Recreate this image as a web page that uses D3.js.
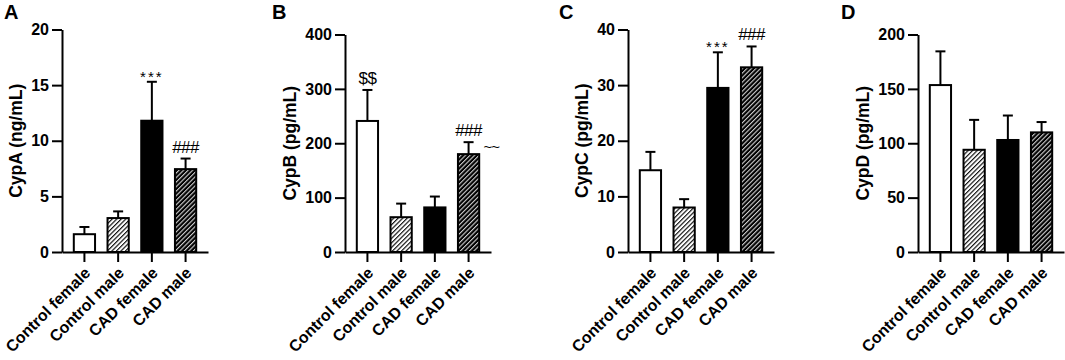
<!DOCTYPE html>
<html>
<head>
<meta charset="utf-8">
<script src="https://cdn.jsdelivr.net/npm/d3@7"></script>
<style>
  body { margin: 0; background: #fff; }
  svg { display: block; font-family: "Liberation Sans", Arial, sans-serif; }
</style>
</head>
<body>
<div id="chart"></div>
<script>
// groups (same for all panels)
var groups = ["Control female", "Control male", "CAD female", "CAD male"]

// panel A: CypA (ng/mL)
var meanA = [1.6, 3.05, 11.8, 7.45]
var semA = [0.65, 0.6, 3.5, 0.95]
var ticksA = [0, 5, 10, 15, 20]
var markA = ["", "", "***", "###"]

// panel B: CypB (pg/mL)
var meanB = [241, 64, 82, 180]
var semB = [57, 25, 20, 22]
var ticksB = [0, 100, 200, 300, 400]
var markB = ["$$", "", "", "###"]
var sideB = ["", "", "", "~~"]

// panel C: CypC (pg/mL)
var meanC = [14.7, 8.0, 29.5, 33.2]
var semC = [3.3, 1.5, 6.4, 3.75]
var ticksC = [0, 10, 20, 30, 40]
var markC = ["", "", "***", "###"]

// panel D: CypD (pg/mL)
var meanD = [153.5, 94, 103, 110]
var semD = [31, 27.5, 22.5, 9.5]
var ticksD = [0, 50, 100, 150, 200]

var panels = [
  { letter: "A", label: "CypA (ng/mL)", mean: meanA, sem: semA, ticks: ticksA, mark: markA, side: null },
  { letter: "B", label: "CypB (pg/mL)", mean: meanB, sem: semB, ticks: ticksB, mark: markB, side: sideB },
  { letter: "C", label: "CypC (pg/mL)", mean: meanC, sem: semC, ticks: ticksC, mark: markC, side: null },
  { letter: "D", label: "CypD (pg/mL)", mean: meanD, sem: semD, ticks: ticksD, mark: null, side: null }
]

// layout
var axisX = [62, 345, 628, 918]
var plotTop = [29.5, 34.5, 29.5, 34.5]
var letterX = [4, 272, 559, 841]
var plotBottom = 252
var plotW = 146

var svg = d3.select("#chart").append("svg")
  .attr("width", 1065)
  .attr("height", 360)

// hatch patterns
var defs = svg.append("defs")
var light = defs.append("pattern")
  .attr("id", "hatchLight")
  .attr("patternUnits", "userSpaceOnUse")
  .attr("width", 3.2).attr("height", 3.2)
  .attr("patternTransform", "rotate(45)")
light.append("rect").attr("width", 3.2).attr("height", 3.2).attr("fill", "#fff")
light.append("line").attr("x1", 0.6).attr("x2", 0.6).attr("y1", 0).attr("y2", 3.2)
  .attr("stroke", "#000").attr("stroke-width", 1.1)

var dark = defs.append("pattern")
  .attr("id", "hatchDark")
  .attr("patternUnits", "userSpaceOnUse")
  .attr("width", 3.2).attr("height", 3.2)
  .attr("patternTransform", "rotate(45)")
dark.append("rect").attr("width", 3.2).attr("height", 3.2).attr("fill", "#000")
dark.append("line").attr("x1", 0.6).attr("x2", 0.6).attr("y1", 0).attr("y2", 3.2)
  .attr("stroke", "#fff").attr("stroke-width", 0.9)

var fills = ["#fff", "url(#hatchLight)", "#000", "url(#hatchDark)"]

panels.forEach(function(p, k) {
  var x0 = axisX[k]
  var g = svg.append("g")

  var x = d3.scaleBand()
    .domain(groups)
    .range([x0, x0 + plotW])
    .paddingInner(0.37)
    .paddingOuter(0.35)

  var y = d3.scaleLinear()
    .domain([p.ticks[0], p.ticks[p.ticks.length - 1]])
    .range([plotBottom, plotTop[k]])

  // bars
  g.selectAll(".bar").data(p.mean).enter().append("rect")
    .attr("x", function(d, i) { return x(groups[i]) })
    .attr("y", function(d) { return y(d) })
    .attr("width", x.bandwidth())
    .attr("height", function(d) { return plotBottom - y(d) })
    .attr("fill", function(d, i) { return fills[i] })
    .attr("stroke", "#000")
    .attr("stroke-width", 2)

  // error bars (upper only)
  var cx = function(i) { return x(groups[i]) + x.bandwidth() / 2 }
  p.mean.forEach(function(m, i) {
    var top = y(m + p.sem[i])
    g.append("line")
      .attr("x1", cx(i)).attr("x2", cx(i))
      .attr("y1", y(m)).attr("y2", top)
      .attr("stroke", "#000").attr("stroke-width", 2)
    g.append("line")
      .attr("x1", cx(i) - 5).attr("x2", cx(i) + 5)
      .attr("y1", top).attr("y2", top)
      .attr("stroke", "#000").attr("stroke-width", 2)

    if (p.mark && p.mark[i]) {
      var star = p.mark[i].charAt(0) == "*"
      g.append("text")
        .attr("x", cx(i))
        .attr("y", top - (star ? 0 : 6))
        .attr("text-anchor", "middle")
        .style("font-size", star ? "15px" : "17px")
        .style("letter-spacing", star ? "2px" : "-0.5px")
        .attr("fill", "#000")
        .text(p.mark[i])
    }
    if (p.side && p.side[i]) {
      g.append("text")
        .attr("x", cx(i) + 15)
        .attr("y", top + 10)
        .attr("text-anchor", "start")
        .style("font-size", "15px")
        .style("letter-spacing", "-1px")
        .text(p.side[i])
    }
  })

  // axes
  var yAxis = g.append("g")
    .attr("transform", "translate(" + x0 + ",0)")
    .call(d3.axisLeft(y).tickValues(p.ticks).tickSize(10).tickSizeOuter(0).tickPadding(3))
  yAxis.selectAll("line").attr("stroke", "#000").attr("stroke-width", 2)
  yAxis.select(".domain").attr("stroke", "#000").attr("stroke-width", 2)
  yAxis.selectAll("text")
    .style("font-size", "16px")
    .style("font-weight", "bold")
    .attr("fill", "#000")

  var xAxis = g.append("g")
    .attr("transform", "translate(0," + plotBottom + ")")
    .call(d3.axisBottom(x).tickSize(10).tickSizeOuter(0))
  xAxis.selectAll("line").attr("stroke", "#000").attr("stroke-width", 2)
  xAxis.select(".domain").attr("stroke", "#000").attr("stroke-width", 2)
  xAxis.selectAll("text")
    .attr("x", 0).attr("y", 0).attr("dy", "0.35em")
    .attr("transform", "translate(3,18) rotate(-45)")
    .attr("text-anchor", "end")
    .style("font-size", "16px")
    .style("font-weight", "bold")
    .attr("fill", "#000")

  // y label
  var bb = yAxis.node().getBBox()
  var ly = (plotBottom + plotTop[k]) / 2
  var lx = x0 + bb.x - 15
  g.append("text")
    .attr("transform", "translate(" + lx + "," + ly + ") rotate(-90)")
    .attr("text-anchor", "middle")
    .attr("dy", "0.35em")
    .style("font-size", "17.5px")
    .style("font-weight", "bold")
    .text(p.label)

  // panel letter
  g.append("text")
    .attr("x", letterX[k])
    .attr("y", 19)
    .style("font-size", "20px")
    .style("font-weight", "bold")
    .text(p.letter)
})
</script>
</body>
</html>
